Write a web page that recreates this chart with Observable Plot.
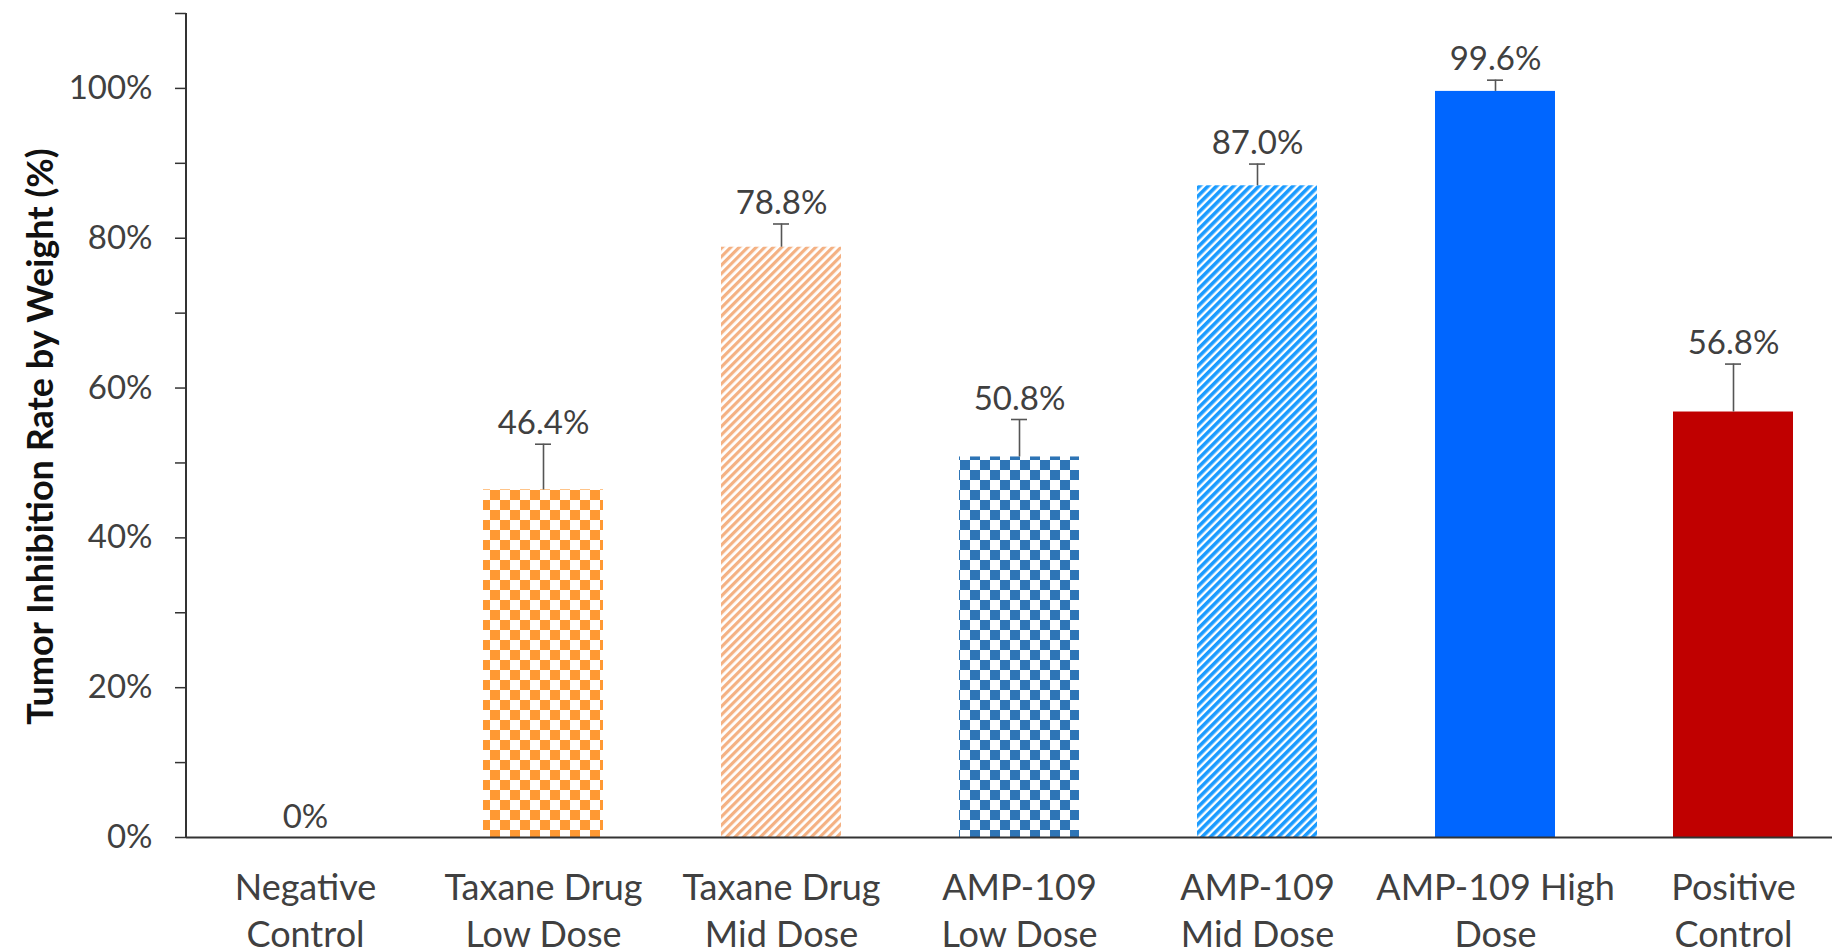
<!DOCTYPE html>
<html>
<head>
<meta charset="utf-8">
<script src="https://cdn.jsdelivr.net/npm/d3@7"></script>
<script src="https://cdn.jsdelivr.net/npm/@observablehq/plot@0.6"></script>
<style>
  html, body { margin: 0; padding: 0; background: #fff; }
  #chart svg { display: block; }
</style>
</head>
<body>
<div id="chart"></div>
<script>
// ---- data ----
const categories = [
  "Negative\nControl",
  "Taxane Drug\nLow Dose",
  "Taxane Drug\nMid Dose",
  "AMP-109\nLow Dose",
  "AMP-109\nMid Dose",
  "AMP-109 High\nDose",
  "Positive\nControl"
];
const values = [0, 46.4, 78.8, 50.8, 87.0, 99.6, 56.8];
const errors = [0, 6.1, 3.1, 5.0, 2.9, 1.5, 6.4];
const valueLabels = ["0%", "46.4%", "78.8%", "50.8%", "87.0%", "99.6%", "56.8%"];
const yTicks = [0, 10, 20, 30, 40, 50, 60, 70, 80, 90, 100, 110];
const yTickLabels = ["0%", "", "20%", "", "40%", "", "60%", "", "80%", "", "100%", ""];
const yTitle = "Tumor Inhibition Rate by Weight (%)";

// ---- styles ----
const fills = ["none", "url(#checkOrange)", "url(#stripeOrange)", "url(#checkBlue)", "url(#stripeBlue)", "#0066FF", "#C00000"];
const textColor = "#404040";
const fontFamily = "Lato, 'Open Sans', sans-serif";

const data = categories.map((c, i) => ({
  category: c, value: values[i], error: errors[i], fill: fills[i], label: valueLabels[i]
}));
const errData = data.filter(d => d.error > 0);

// pattern definitions
function defsMark() {
  const g = d3.create("svg:g");
  const defs = g.append("defs");
  function checker(id, color) {
    const p = defs.append("pattern").attr("id", id).attr("patternUnits", "userSpaceOnUse")
      .attr("width", 20).attr("height", 20);
    p.append("rect").attr("width", 20).attr("height", 20).attr("fill", "#fff");
    p.append("rect").attr("x", 0).attr("y", 0).attr("width", 10).attr("height", 10).attr("fill", color);
    p.append("rect").attr("x", 10).attr("y", 10).attr("width", 10).attr("height", 10).attr("fill", color);
  }
  function stripes(id, color, w) {
    const p = defs.append("pattern").attr("id", id).attr("patternUnits", "userSpaceOnUse")
      .attr("width", 6).attr("height", 6).attr("patternTransform", "rotate(45)");
    p.append("rect").attr("width", 6).attr("height", 6).attr("fill", "#fff");
    p.append("rect").attr("x", 0).attr("y", 0).attr("width", w).attr("height", 6).attr("fill", color);
  }
  checker("checkOrange", "#FF9933");
  checker("checkBlue", "#2E75B6");
  stripes("stripeOrange", "#F4B183", 3.2);
  stripes("stripeBlue", "#1A9BFF", 3.6);
  return g.node();
}

// vertical y-axis line drawn through the y scale
function yAxisLine(index, scales, values, dimensions) {
  const y = scales.y;
  const x0 = dimensions.marginLeft;
  const g = d3.create("svg:g");
  g.append("line")
    .attr("x1", x0).attr("x2", x0)
    .attr("y1", y(yTicks[0])).attr("y2", y(yTicks[yTicks.length - 1]))
    .attr("stroke", "#333").attr("stroke-width", 2);
  return g.node();
}

const chart = Plot.plot({
  width: 1832,
  height: 949,
  marginLeft: 186,
  marginRight: 0,
  marginTop: 13,
  marginBottom: 112,
  style: { fontFamily, fontSize: "33px", color: textColor, background: "#fff" },
  x: { domain: categories, range: [186, 1852], paddingInner: 0.496, paddingOuter: 0.248, label: null },
  y: { domain: [0, 110], label: null },
  color: { type: "identity" },
  marks: [
    defsMark,
    Plot.barY(data, { x: "category", y: "value", fill: "fill" }),
    Plot.ruleX(errData, { x: "category", y1: "value", y2: d => d.value + d.error, stroke: "#555", strokeWidth: 1.6 }),
    Plot.tickY(errData, { x: "category", y: d => d.value + d.error, stroke: "#555", strokeWidth: 1.6, insetLeft: 52, insetRight: 52 }),
    Plot.text(data, { x: "category", y: d => d.value + d.error, text: "label", lineAnchor: "bottom", dy: -10, fill: textColor, fontSize: 33 }),
    Plot.ruleY([0], { stroke: "#333", strokeWidth: 2 }),
    yAxisLine,
    Plot.axisY({
      ticks: yTicks,
      tickFormat: d => yTickLabels[yTicks.indexOf(d)],
      tickSize: 11, tickPadding: 23, stroke: "#333", strokeWidth: 1.5,
      label: null, fill: textColor, fontSize: 33
    }),
    Plot.axisX({ tickSize: 0, tickPadding: 29, label: null, fill: textColor, fontSize: 36, lineHeight: 1.3 }),
    Plot.text([yTitle], { frameAnchor: "left", textAnchor: "middle", dx: -145, dy: 11, rotate: -90, fontWeight: "bold", fontSize: 36, fill: "#111" })
  ]
});
document.getElementById("chart").appendChild(chart);
</script>
</body>
</html>
